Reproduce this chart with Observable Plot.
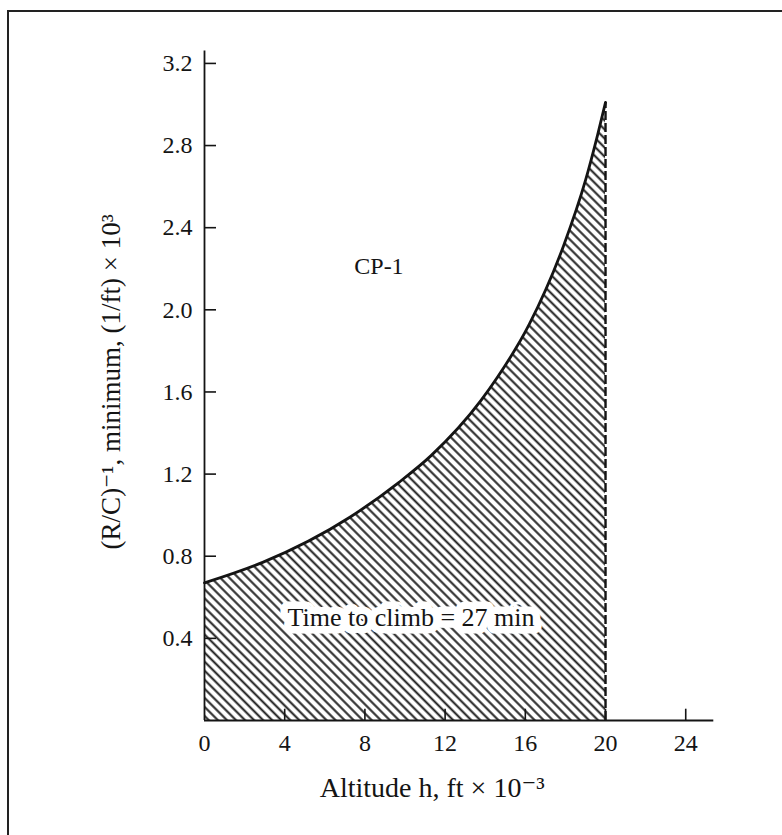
<!DOCTYPE html>
<html><head><meta charset="utf-8">
<script src="https://cdn.jsdelivr.net/npm/d3@7"></script>
<script src="https://cdn.jsdelivr.net/npm/@observablehq/plot@0.6"></script>
<style>
html,body{margin:0;padding:0;background:#fff;overflow:hidden;width:782px;height:835px;}
#frame{position:absolute;left:7px;top:10px;width:790px;height:840px;border-left:2px solid #222;border-top:2px solid #222;box-sizing:border-box;}
#chart{position:absolute;left:0;top:0;width:782px;height:835px;}
</style></head><body>
<div id="frame"></div>
<div id="chart"></div>
<script>
// Altitude h (ft x 10^-3) and minimum (R/C)^-1 ((1/ft) x 10^3)
const altitude  = [0,    2.9,  7.25, 9.7,  11.3, 13.8, 14.6, 16.2, 17.9, 19.0, 19.6, 20.0];
const rcInverse = [0.67, 0.77, 0.99, 1.16, 1.29, 1.56, 1.67, 1.93, 2.31, 2.63, 2.85, 3.01];

const xTicks = [0, 4, 8, 12, 16, 20, 24];
const yTicks = [0.4, 0.8, 1.2, 1.6, 2.0, 2.4, 2.8, 3.2];
const xAxisEnd = 25.4;
const yAxisEnd = 3.26;

const xTitle = "Altitude h, ft × 10⁻³";
const yTitle = "(R/C)⁻¹, minimum, (1/ft) × 10³";
const aircraftLabel = [{text: "CP-1", x: 8.7, y: 2.21}];
const climbLabel = [{text: "Time to climb = 27 min", x: 10.3, y: 0.50}];

const curve = altitude.map((x, i) => ({x, y: rcInverse[i]}));
const last = curve[curve.length - 1];
const ink = "#141414";
const font = "'Liberation Serif', 'DejaVu Serif', serif";

const plot = Plot.plot({
  width: 782,
  height: 835,
  marginLeft: 204,
  marginRight: 782 - 713.3,
  marginTop: 50.6,
  marginBottom: 115,
  x: {domain: [0, xAxisEnd]},
  y: {domain: [0, yAxisEnd]},
  style: {fontFamily: font, fontSize: "24px", color: ink, background: "transparent"},
  marks: [
    Plot.areaY(curve, {x: "x", y: "y", fill: "url(#hatch)", curve: "monotone-x"}),
    Plot.text(climbLabel, {x: "x", y: "y", text: "text", fontSize: 26, fill: ink, stroke: "white", strokeWidth: 15}),
    Plot.line(curve, {x: "x", y: "y", stroke: ink, strokeWidth: 2.8, curve: "monotone-x"}),
    Plot.ruleX([last], {x: "x", y1: 0, y2: "y", stroke: ink, strokeWidth: 2.4, strokeDasharray: "9,3"}),
    Plot.ruleX([0], {y1: 0, y2: yAxisEnd, stroke: ink, strokeWidth: 1.8}),
    Plot.ruleY([0], {x1: 0, x2: xAxisEnd, stroke: ink, strokeWidth: 1.8}),
    Plot.ruleX(xTicks.filter(d => d > 0), {y1: 0, y2: 0.055, stroke: ink, strokeWidth: 1.6}),
    Plot.ruleY(yTicks, {x1: 0, x2: 0.6, stroke: ink, strokeWidth: 1.6}),
    Plot.axisX(xTicks, {tickSize: 0, tickPadding: 13, fontSize: 24, label: null, tickFormat: d => String(d)}),
    Plot.axisY(yTicks, {tickSize: 0, tickPadding: 12, fontSize: 24, label: null, tickFormat: d => d.toFixed(1)}),
    Plot.text(aircraftLabel, {x: "x", y: "y", text: "text", fontSize: 24, fill: ink}),
    Plot.text([yTitle], {frameAnchor: "left", textAnchor: "middle", dx: -93, dy: -4, rotate: -90, fontSize: 27, fill: ink}),
    Plot.text([xTitle], {frameAnchor: "bottom", textAnchor: "middle", dx: -27, dy: 76, fontSize: 28, fill: ink})
  ]
});

d3.select(plot).insert("defs", ":first-child").html(
  '<pattern id="hatch" patternUnits="userSpaceOnUse" width="6.4" height="6.4" patternTransform="rotate(-45)">' +
  '<rect width="6.4" height="6.4" fill="white"/>' +
  '<line x1="3.2" y1="-1" x2="3.2" y2="8" stroke="#1e1e1e" stroke-width="2"/></pattern>'
);

document.getElementById("chart").appendChild(plot);
</script>
</body></html>
